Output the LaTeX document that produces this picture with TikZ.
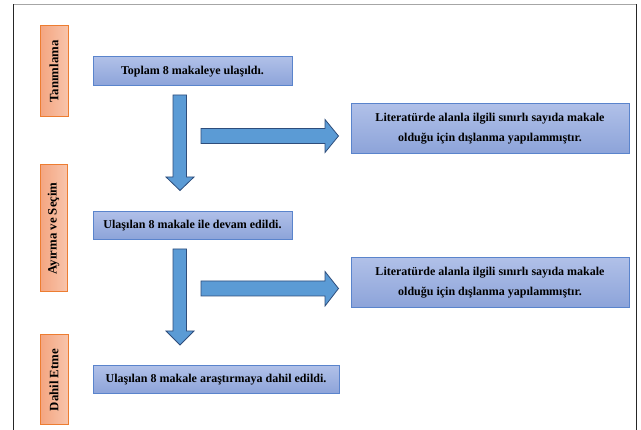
\documentclass[tikz,border=0pt]{standalone}
\usepackage{fontspec}
\setmainfont{Liberation Serif}
\definecolor{boxtop}{HTML}{B0C0E8}
\definecolor{boxbot}{HTML}{8CA3D9}
\definecolor{boxline}{HTML}{5A84CC}
\definecolor{orL}{HTML}{F4A580}
\definecolor{orR}{HTML}{F8C4AB}
\definecolor{orline}{HTML}{ED7D31}
\definecolor{arrfill}{HTML}{5B9BD5}
\definecolor{arrline}{HTML}{2E4D7B}
\begin{document}
\begin{tikzpicture}[x=1pt,y=-1pt,
  bluebox/.style={draw=boxline,line width=1pt,top color=boxtop,bottom color=boxbot,
    inner sep=0pt,font=\fontsize{12}{20}\selectfont\bfseries,align=center,text=black},
  phase/.style={draw=orline,line width=1pt,left color=orL,right color=orR,inner sep=0pt,
    rotate=90,font=\fontsize{12.8}{15}\selectfont\bfseries,text=black},
  blockarrow/.style={draw=arrline,fill=arrfill,line width=0.8pt,line join=miter}]
\useasboundingbox (0,0) rectangle (641,430);
\fill[white] (0,0) rectangle (641,430);
% frame
\draw[gray!70,line width=1.6pt] (13.5,4.5) -- (636.5,4.5);
\draw[black!85,line width=1.4pt] (13.5,4.5) -- (13.5,430);
\draw[black!85,line width=1.4pt] (636.5,4.5) -- (636.5,430);
% phase labels
\node[phase,minimum width=91pt,minimum height=28pt] (o1) at (54,71.5) {Tanımlama};
\node[phase,minimum width=127pt,minimum height=27pt] (o2) at (53.5,228.5) {Ayırma ve Seçim};
\node[phase,minimum width=90pt,minimum height=28pt] (o3) at (54,380) {Dahil Etme};
% boxes
\node[bluebox,minimum width=199pt,minimum height=29pt] (b1) at (192.5,71.5) {Toplam 8 makaleye ulaşıldı.};
\node[bluebox,minimum width=199pt,minimum height=28pt] (b2) at (192.5,225.5) {Ulaşılan 8 makale ile devam edildi.};
\node[bluebox,minimum width=246pt,minimum height=28pt] (b3) at (216,380) {Ulaşılan 8 makale araştırmaya dahil edildi.};
\node[bluebox,minimum width=278pt,minimum height=50pt] (e1) at (490,129) {Literatürde alanla ilgili sınırlı sayıda makale\\olduğu için dışlanma yapılammıştır.};
\node[bluebox,minimum width=278pt,minimum height=50pt] (e2) at (490,283) {Literatürde alanla ilgili sınırlı sayıda makale\\olduğu için dışlanma yapılammıştır.};
% down arrows
\draw[blockarrow] (173,95) -- (186.5,95) -- (186.5,177) -- (194,177) -- (180,190.5) -- (166,177) -- (173,177) -- cycle;
\draw[blockarrow] (173,249) -- (186.5,249) -- (186.5,331) -- (194,331) -- (180,345) -- (166,331) -- (173,331) -- cycle;
% right arrows
\draw[blockarrow] (201,128.5) -- (325,128.5) -- (325,119.5) -- (338.5,136) -- (325,152.5) -- (325,143.5) -- (201,143.5) -- cycle;
\draw[blockarrow] (201,281) -- (325,281) -- (325,271.5) -- (338.5,288.5) -- (325,306) -- (325,296) -- (201,296) -- cycle;
\end{tikzpicture}
\end{document}
